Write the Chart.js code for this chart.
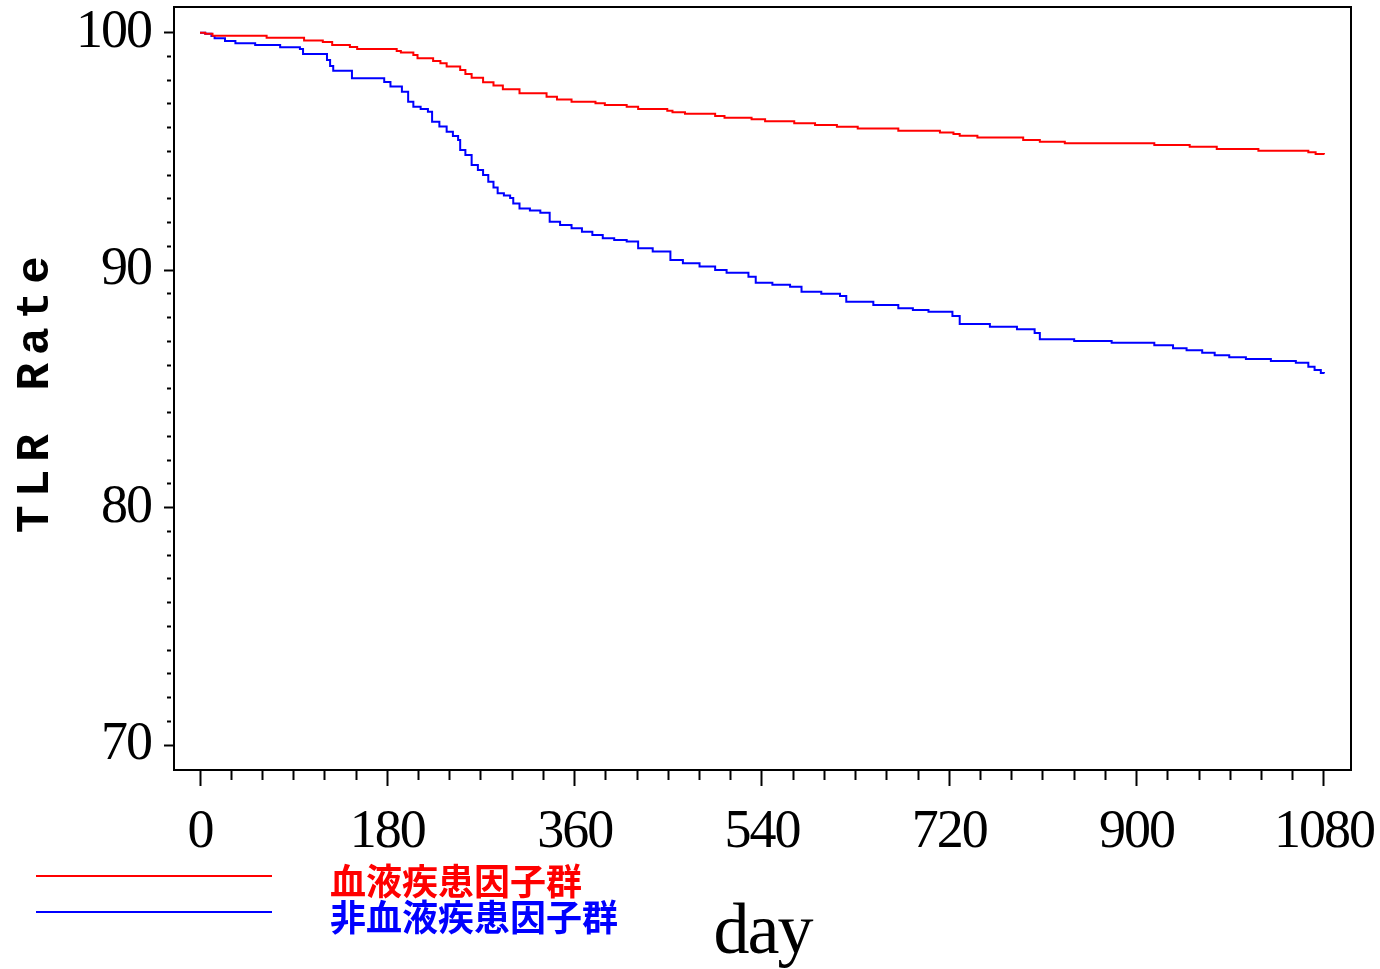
<!DOCTYPE html>
<html>
<head>
<meta charset="utf-8">
<title>TLR Rate</title>
<script src="https://cdn.jsdelivr.net/npm/chart.js@4.4.0/dist/chart.umd.min.js"></script>
<style>
  html, body { margin: 0; padding: 0; background: #fff; }
  canvas { display: block; }
</style>
</head>
<body>
<canvas id="myChart" width="1380" height="969"></canvas>
<script>
const seriesNames = ['血液疾患因子群', '非血液疾患因子群'];
const seriesColors = ['#ff0000', '#0000ff'];

// 血液疾患因子群
const redDays = [0, 5, 12, 64, 100, 118, 127, 144, 151, 189, 193, 205, 209, 224, 231, 237, 250, 255, 261, 272,
  282, 291, 307, 333, 343, 357, 380, 389, 410, 421, 449, 454, 466, 495, 504, 530, 543, 571, 591, 612,
  632, 671, 711, 724, 730, 747, 791, 807, 831, 917, 951, 977, 1017, 1065, 1072, 1080];
const redRate = [100, 99.95, 99.87, 99.78, 99.67, 99.61, 99.48, 99.40, 99.31, 99.23, 99.16, 99.06, 98.92, 98.81, 98.71, 98.57, 98.43, 98.26, 98.10, 97.91,
  97.77, 97.62, 97.45, 97.30, 97.19, 97.09, 97.03, 96.95, 96.88, 96.79, 96.71, 96.65, 96.58, 96.49, 96.42, 96.35, 96.27, 96.18, 96.11, 96.04,
  95.96, 95.87, 95.80, 95.73, 95.66, 95.58, 95.48, 95.41, 95.34, 95.27, 95.19, 95.10, 95.03, 94.96, 94.89, 94.87];

// 非血液疾患因子群
const blueDays = [0, 5, 11, 14, 24, 34, 53, 77, 96, 99, 122, 125, 128, 146, 177, 183, 194, 200, 205, 212, 219,
  223, 230, 237, 243, 248, 250, 255, 261, 267, 272, 277, 282, 286, 292, 298, 301, 307, 317, 327, 336, 346, 357, 367, 377, 387, 398, 410, 421, 435,
  452, 464, 480, 495, 506, 527, 534, 550, 567, 578, 597, 615, 621, 647, 671, 685, 700, 723, 730, 759, 785, 802, 807, 840, 876,
  917, 935, 948, 963, 975, 989, 1005, 1029, 1053, 1065, 1071, 1077, 1080];
const blueRate = [100, 99.95, 99.86, 99.76, 99.65, 99.55, 99.48, 99.39, 99.31, 99.10, 98.85, 98.60, 98.40, 98.08, 97.92, 97.73, 97.51, 97.09, 96.88, 96.78, 96.67,
  96.25, 96.05, 95.83, 95.65, 95.48, 95.06, 94.85, 94.43, 94.22, 94.01, 93.72, 93.48, 93.24, 93.14, 93.04, 92.81, 92.60, 92.51, 92.42, 92.04, 91.90, 91.76, 91.62, 91.48, 91.34, 91.27, 91.20, 90.92, 90.78,
  90.43, 90.29, 90.15, 90.00, 89.89, 89.72, 89.47, 89.38, 89.30, 89.09, 89.00, 88.91, 88.67, 88.53, 88.39, 88.32, 88.25, 88.07, 87.73, 87.62, 87.51, 87.35, 87.09, 87.02, 86.94,
  86.84, 86.71, 86.63, 86.52, 86.42, 86.33, 86.26, 86.17, 86.10, 85.93, 85.79, 85.67, 85.65];

const xLabels = [0, 180, 360, 540, 720, 900, 1080];
const yLabels = [70, 80, 90, 100];
const xTitle = 'day';
const yTitle = 'TLR Rate';

(() => {
  const ctx = document.getElementById('myChart');
  if (!ctx) return;

  // minor ticks: every 30 days, every 1 point
  const xTicks = [];
  for (let d = 0; d <= 1080; d += 30) xTicks.push(d);
  const yTicks = [];
  for (let v = 70; v <= 100; v += 1) yTicks.push(v);

  const toPoints = (days, rate) => days.map((d, i) => ({ x: d, y: rate[i] }));

  const serif = '"Liberation Serif", serif';
  const tickFont = { family: serif, size: 54 };

  const frame = {
    id: 'frame',
    beforeDraw(chart) {
      chart.ctx.letterSpacing = '-2px';
    },
    afterDatasetsDraw(chart) {
      const c = chart.ctx;
      const a = chart.chartArea;
      c.save();
      c.strokeStyle = '#000';
      c.lineWidth = 2;
      c.strokeRect(a.left, a.top, a.right - a.left, a.bottom - a.top);
      c.restore();
    },
    afterDraw(chart) {
      const c = chart.ctx;
      const a = chart.chartArea;
      c.save();
      c.fillStyle = '#000';

      // x title
      c.letterSpacing = '-2px';
      c.font = '72px ' + serif;
      c.textAlign = 'center';
      c.textBaseline = 'alphabetic';
      c.fillText(xTitle, (a.left + a.right) / 2, chart.height - 16);

      // y title
      c.save();
      c.letterSpacing = '8px';
      c.font = 'bold 46px "Liberation Mono", monospace';
      c.translate(48, (a.top + a.bottom) / 2 + 2);
      c.rotate(-Math.PI / 2);
      c.fillText(yTitle, 0, 0);
      c.restore();

      // legend
      c.letterSpacing = '0px';
      c.font = 'bold 36px "Noto Sans CJK JP", sans-serif';
      c.textAlign = 'left';
      c.textBaseline = 'middle';
      chart.data.datasets.forEach((ds, i) => {
        const y = 876 + i * 36;
        c.strokeStyle = ds.borderColor;
        c.lineWidth = 2;
        c.beginPath();
        c.moveTo(36, y);
        c.lineTo(272, y);
        c.stroke();
        c.fillStyle = ds.borderColor;
        c.fillText(ds.label, 330, y + 5);
      });
      c.restore();
    }
  };

  const data = {
    datasets: [
      {
        label: seriesNames[0],
        data: toPoints(redDays, redRate),
        borderColor: seriesColors[0],
        backgroundColor: seriesColors[0],
        borderWidth: 2,
        pointRadius: 0,
        stepped: true
      },
      {
        label: seriesNames[1],
        data: toPoints(blueDays, blueRate),
        borderColor: seriesColors[1],
        backgroundColor: seriesColors[1],
        borderWidth: 2,
        pointRadius: 0,
        stepped: true
      }
    ]
  };

  const config = {
    type: 'line',
    data: data,
    options: {
      responsive: false,
      animation: false,
      devicePixelRatio: 1,
      layout: { padding: { top: 7, right: 29, bottom: 0, left: 0 } },
      plugins: {
        legend: { display: false },
        tooltip: { enabled: false }
      },
      scales: {
        x: {
          type: 'linear',
          min: -25,
          max: 1106,
          afterBuildTicks: (s) => { s.ticks = xTicks.map(v => ({ value: v })); },
          afterFit: (s) => { s.height = 199; s.paddingLeft = 0; s.paddingRight = 0; },
          border: { display: true, color: '#000', width: 2 },
          grid: {
            drawOnChartArea: false,
            tickLength: 16,
            tickWidth: 2,
            tickColor: '#000',
            tickBorderDash: (c) => (c.tick && xLabels.includes(c.tick.value)) ? [] : [9, 100]
          },
          ticks: {
            autoSkip: false,
            maxRotation: 0,
            padding: 14,
            color: '#000',
            font: tickFont,
            callback: (v) => xLabels.includes(v) ? String(v) : ''
          }
        },
        y: {
          min: 68.95,
          max: 101.08,
          afterBuildTicks: (s) => { s.ticks = yTicks.map(v => ({ value: v })); },
          afterFit: (s) => { s.width = 174; s.paddingTop = 0; s.paddingBottom = 0; },
          border: { display: true, color: '#000', width: 2 },
          grid: {
            drawOnChartArea: false,
            tickLength: 10,
            tickWidth: 2,
            tickColor: '#000',
            tickBorderDash: (c) => (c.tick && yLabels.includes(c.tick.value)) ? [] : [0, 3, 4, 100]
          },
          ticks: {
            autoSkip: false,
            padding: 13,
            color: '#000',
            font: tickFont,
            callback: (v) => yLabels.includes(v) ? String(v) : ''
          }
        }
      }
    },
    plugins: [frame]
  };

  new Chart(ctx, config);
})();
</script>
</body>
</html>
